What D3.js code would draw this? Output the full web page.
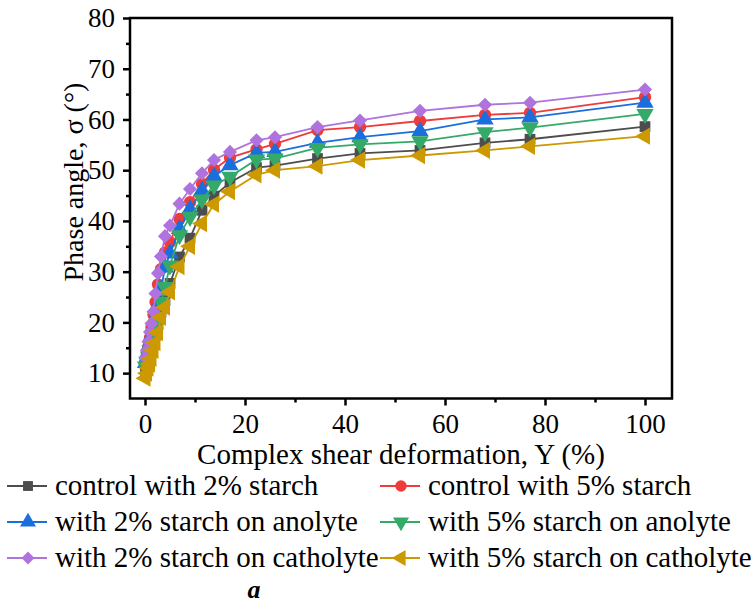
<!DOCTYPE html>
<html>
<head>
<meta charset="utf-8">
<script src="https://cdn.jsdelivr.net/npm/d3@7"></script>
<style>
  body { margin: 0; background: #fff; }
  svg text { font-family: "Liberation Serif", "Times New Roman", serif; fill: #000; }
</style>
</head>
<body>
<div id="chart"></div>
<script>
const strain = [0.1, 0.4, 0.7, 1.0, 1.3, 1.7, 2.1, 2.6, 3.2, 4.0, 5.0, 6.9, 9.0, 11.4, 13.8, 17.0, 22.3, 26.0, 34.5, 43.0, 55.0, 68.0, 77.0, 100.0];

const control2 = [10.5, 11.2, 12.0, 13.0, 14.2, 15.8, 17.5, 19.5, 22.0, 24.3, 27.7, 32.9, 36.6, 42.1, 44.9, 47.6, 50.5, 50.9, 52.3, 53.3, 53.9, 55.4, 56.1, 58.6];
const control5 = [12.5, 13.8, 15.3, 17.0, 19.0, 21.5, 24.0, 27.5, 30.5, 33.8, 35.8, 40.4, 43.7, 47.3, 50.1, 52.5, 54.1, 55.2, 57.9, 58.5, 59.7, 60.9, 61.3, 64.4];
const anolyte2 = [12.0, 13.0, 14.3, 15.8, 17.3, 19.2, 21.0, 23.5, 26.5, 30.8, 33.6, 38.4, 42.3, 46.0, 48.8, 51.0, 53.4, 53.6, 55.4, 56.5, 57.7, 60.0, 60.4, 63.3];
const anolyte5 = [11.3, 12.3, 13.3, 14.5, 15.8, 17.3, 19.0, 21.0, 24.0, 27.0, 31.2, 37.2, 40.8, 44.2, 47.0, 48.7, 52.1, 52.3, 54.4, 55.1, 55.7, 57.5, 58.4, 61.1];
const catholyte2 = [13.0, 14.5, 16.2, 18.1, 19.8, 22.1, 25.7, 29.7, 33.0, 37.0, 39.1, 43.4, 46.3, 49.4, 52.0, 53.6, 55.9, 56.5, 58.5, 59.8, 61.7, 62.9, 63.3, 65.9];
const catholyte5 = [9.0, 10.0, 11.0, 11.8, 12.9, 14.5, 16.0, 18.0, 21.0, 23.0, 26.0, 31.0, 35.0, 39.5, 43.3, 45.8, 49.1, 50.0, 50.8, 52.0, 52.9, 53.9, 54.7, 56.7];

const seriesNames = ["control with 2% starch", "control with 5% starch", "with 2% starch on anolyte",
  "with 5% starch on anolyte", "with 2% starch on catholyte", "with 5% starch on catholyte"];
const seriesValues = [control2, control5, anolyte2, anolyte5, catholyte2, catholyte5];
const seriesColors = ["#4d4d4d", "#ee3b3b", "#1a6fdc", "#35aa68", "#b073de", "#cc9900"];

const xTicks = [0, 20, 40, 60, 80, 100];
const yTicks = [10, 20, 30, 40, 50, 60, 70, 80];

const width = 753, height = 605;
const mLeft = 130, mRight = 672, mTop = 18, mBottom = 398.5;
const serif = "'Liberation Serif', 'Times New Roman', serif";

const svg = d3.select("#chart").append("svg")
  .attr("width", width).attr("height", height)
  .attr("font-family", serif);

const x = d3.scaleLinear().domain([-3.0, 105.4]).range([mLeft, mRight]);
const y = d3.scaleLinear().domain([5, 80]).range([mBottom, mTop]);

// marker shapes
const shapes = [
  { type: d3.symbolSquare, size: 115, rot: 0 },
  { type: d3.symbolCircle, size: 120, rot: 0 },
  { type: d3.symbolTriangle, size: 130, rot: 0 },
  { type: d3.symbolTriangle, size: 130, rot: 180 },
  { type: d3.symbolSquare, size: 100, rot: 45 },
  { type: d3.symbolTriangle, size: 130, rot: -90 }
];

const line = d3.line().x(d => x(d[0])).y(d => y(d[1]));

const plot = svg.append("g");
seriesValues.forEach((vals, i) => {
  const pts = strain.map((s, j) => [s, vals[j]]);
  const g = plot.append("g");
  g.append("path")
    .datum(pts)
    .attr("d", line)
    .attr("fill", "none")
    .attr("stroke", seriesColors[i])
    .attr("stroke-width", 1.8);
  g.selectAll("path.m")
    .data(pts)
    .join("path")
    .attr("class", "m")
    .attr("d", d3.symbol().type(shapes[i].type).size(shapes[i].size))
    .attr("transform", d => `translate(${x(d[0])},${y(d[1])}) rotate(${shapes[i].rot})`)
    .attr("fill", seriesColors[i]);
});

// axes
const xAxis = d3.axisBottom(x).tickValues(xTicks).tickSize(7).tickPadding(8);
const xMinor = d3.axisBottom(x).tickValues(d3.range(10, 100, 20)).tickSize(4).tickFormat("");
const yAxis = d3.axisLeft(y).tickValues(yTicks).tickSize(7).tickPadding(8);
const yMinor = d3.axisLeft(y).tickValues(d3.range(15, 80, 10)).tickSize(4).tickFormat("");

function styleAxis(g) {
  g.attr("font-family", serif).attr("font-size", 27);
  g.select(".domain").remove();
  g.selectAll("line").attr("stroke", "#000").attr("stroke-width", 2.5);
  g.selectAll("text").attr("fill", "#000");
}

svg.append("g").attr("transform", `translate(0,${mBottom})`).call(xAxis).call(styleAxis);
svg.append("g").attr("transform", `translate(0,${mBottom})`).call(xMinor).call(styleAxis);
svg.append("g").attr("transform", `translate(${mLeft},0)`).call(yAxis).call(styleAxis);
svg.append("g").attr("transform", `translate(${mLeft},0)`).call(yMinor).call(styleAxis);

svg.append("rect")
  .attr("x", mLeft).attr("y", mTop)
  .attr("width", mRight - mLeft).attr("height", mBottom - mTop)
  .attr("fill", "none").attr("stroke", "#000").attr("stroke-width", 2.5);

// axis titles
svg.append("text")
  .attr("x", 401).attr("y", 464)
  .attr("text-anchor", "middle")
  .attr("font-size", 29)
  .text("Complex shear deformation, Y (%)");

svg.append("text")
  .attr("transform", `translate(83,182) rotate(-90)`)
  .attr("text-anchor", "middle")
  .attr("font-size", 28)
  .text("Phase angle, σ (°)");

// legend
const legendPos = [[7, 486], [380, 486], [7, 522], [380, 522], [7, 558], [380, 558]];
seriesNames.forEach((name, i) => {
  const [lx, ly] = legendPos[i];
  const g = svg.append("g").attr("transform", `translate(${lx},${ly})`);
  g.append("line").attr("x1", 0).attr("x2", 40).attr("y1", 0).attr("y2", 0)
    .attr("stroke", seriesColors[i]).attr("stroke-width", 1.8);
  g.append("path")
    .attr("d", d3.symbol().type(shapes[i].type).size(shapes[i].size * 0.85))
    .attr("transform", `translate(21,0) rotate(${shapes[i].rot})`)
    .attr("fill", seriesColors[i]);
  g.append("text")
    .attr("x", 48).attr("y", 9)
    .attr("font-size", 29)
    .text(name);
});

svg.append("text")
  .attr("x", 254).attr("y", 598)
  .attr("text-anchor", "middle")
  .attr("font-size", 26)
  .attr("font-style", "italic")
  .attr("font-weight", "bold")
  .text("a");
</script>
</body>
</html>
